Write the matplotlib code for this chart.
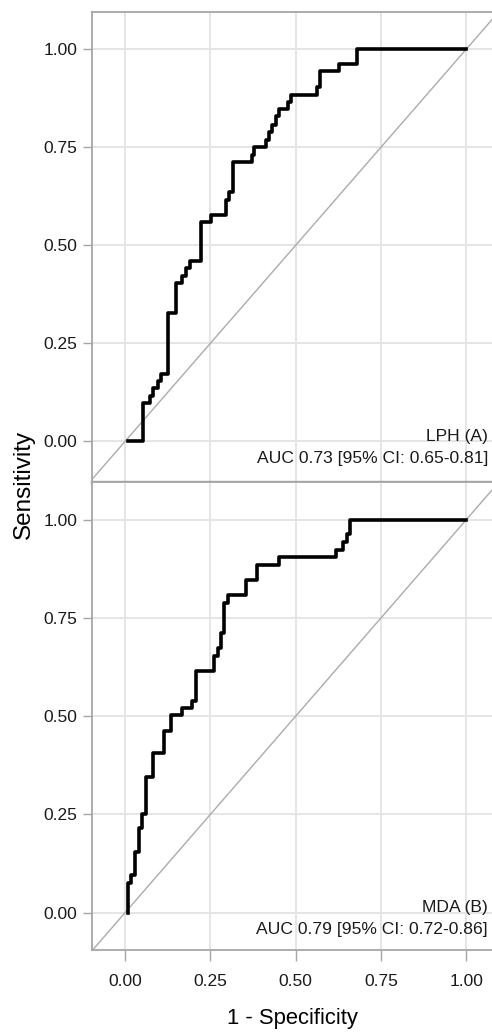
import matplotlib
matplotlib.use("Agg")
import matplotlib.pyplot as plt

plt.rcParams['font.family'] = ['Liberation Sans', 'DejaVu Sans']

# ROC step points (x = 1 - specificity where the curve jumps, y = sensitivity after the jump)
lph_fpr = [0.01, 0.054, 0.073, 0.083, 0.098, 0.105, 0.127, 0.149, 0.168, 0.179,
           0.189, 0.222, 0.251, 0.295, 0.306, 0.316, 0.372, 0.379, 0.413, 0.422,
           0.430, 0.442, 0.452, 0.479, 0.487, 0.562, 0.572, 0.626, 0.679, 1.0]
lph_tpr = [0.0, 0.097, 0.117, 0.136, 0.153, 0.172, 0.327, 0.404, 0.422, 0.442,
           0.461, 0.559, 0.578, 0.616, 0.635, 0.712, 0.731, 0.751, 0.769, 0.790,
           0.807, 0.829, 0.847, 0.867, 0.884, 0.905, 0.945, 0.963, 1.0, 1.0]

mda_fpr = [0.008, 0.008, 0.017, 0.029, 0.041, 0.051, 0.061, 0.083, 0.114, 0.135,
           0.166, 0.197, 0.208, 0.261, 0.272, 0.282, 0.290, 0.301, 0.355, 0.386,
           0.452, 0.619, 0.640, 0.650, 0.660, 1.0]
mda_tpr = [0.0, 0.076, 0.096, 0.155, 0.215, 0.251, 0.346, 0.406, 0.463, 0.503,
           0.522, 0.540, 0.616, 0.654, 0.673, 0.711, 0.789, 0.808, 0.847, 0.884,
           0.905, 0.924, 0.943, 0.964, 1.0, 1.0]

panel_names = ['LPH (A)', 'MDA (B)']
auc_labels = ['AUC 0.73 [95% CI: 0.65-0.81]', 'AUC 0.79 [95% CI: 0.72-0.86]']
ticks = [0.0, 0.25, 0.5, 0.75, 1.0]
tick_labels = ['0.00', '0.25', '0.50', '0.75', '1.00']

fig = plt.figure(figsize=(4.92, 10.32), dpi=100)
ax_top = fig.add_axes([0.187, 0.5332, 0.813, 0.4554])
ax_bot = fig.add_axes([0.187, 0.0795, 0.813, 0.4538])

curves = [(lph_fpr, lph_tpr), (mda_fpr, mda_tpr)]
ylims = [(-0.103, 1.096), (-0.095, 1.0975)]

for i, ax in enumerate([ax_top, ax_bot]):
    fpr, tpr = curves[i]
    ax.set_xlim(-0.097, 1.076)
    ax.set_ylim(*ylims[i])
    ax.set_xticks(ticks)
    ax.set_yticks(ticks)
    ax.set_yticklabels(tick_labels, fontsize=12.5, color='#1a1a1a')
    ax.grid(True, color='#e3e3e3', linewidth=1.3)
    ax.set_axisbelow(True)
    ax.axline((0, 0), (1, 1), color='#ababab', linewidth=1.0, zorder=2)
    ax.step(fpr, tpr, where='post', color='black', linewidth=2.6, zorder=3)
    ax.text(1.064, 0.013, panel_names[i], ha='right', va='center', fontsize=12.6, color='#1a1a1a')
    ax.text(1.064, -0.044, auc_labels[i], ha='right', va='center', fontsize=12.6, color='#1a1a1a')
    for s in ['left', 'top', 'bottom']:
        ax.spines[s].set_color('#a6a6a6')
        ax.spines[s].set_linewidth(1.3)
    ax.spines['right'].set_visible(False)
    ax.tick_params(axis='both', color='#a6a6a6', length=6.5, width=1, pad=4)

ax_top.spines['bottom'].set_color('#999999')
ax_top.spines['bottom'].set_linewidth(2.4)
ax_top.tick_params(axis='x', bottom=False, labelbottom=False)
ax_bot.set_xticklabels(tick_labels, fontsize=12.5, color='#1a1a1a')
ax_bot.tick_params(axis='x', length=8, pad=9)
ax_bot.set_xlabel('1 - Specificity', fontsize=15.8, labelpad=14)

fig.text(0.049, 1 - 484 / 1032, 'Sensitivity', rotation=90, ha='center', va='center', fontsize=17.5)

fig.savefig('out.png', dpi=100)
